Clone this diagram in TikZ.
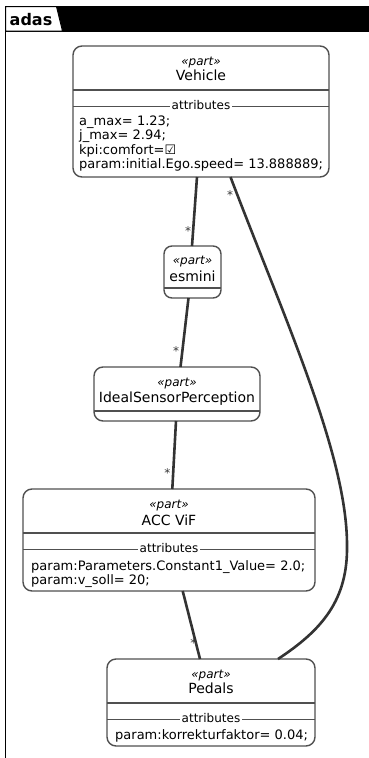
\documentclass[tikz,border=0pt]{standalone}
\usepackage{fontspec}
\setmainfont{DejaVu Sans}
\usetikzlibrary{calc}
\definecolor{edgecol}{HTML}{333333}
\definecolor{boxcol}{HTML}{505050}

\begin{document}
\begin{tikzpicture}[x=1pt,y=-1pt,
  partbox/.style={draw=boxcol, line width=1.4pt, rounded corners=9pt, fill=white, inner sep=0pt, outer sep=0pt},
  stereo/.style={font=\fontsize{12}{14}\selectfont\itshape, inner sep=0pt, anchor=base},
  pname/.style={font=\fontsize{14}{16}\selectfont, inner sep=0pt, anchor=base},
  attr/.style={font=\fontsize{13}{15}\selectfont, inner sep=0pt, anchor=base west},
  seplabel/.style={font=\fontsize{12}{14}\selectfont, inner ysep=0pt, inner xsep=1.5pt, anchor=base, fill=white},
  sepline/.style={draw=boxcol, line width=1.4pt},
  attrline/.style={draw=boxcol, line width=0.9pt},
  link/.style={draw=edgecol, line width=2.6pt},
  mult/.style={font=\fontsize{12}{14}\selectfont, inner sep=0pt, anchor=base, text=edgecol}]

\useasboundingbox (0,0) rectangle (369,758);

% package frame with title tab
\fill[black] (5,6) rectangle (369,31.5);
\draw[black, line width=1pt] (5,6) -- (5,758);
\filldraw[fill=white, draw=black, line width=1pt] (5.5,6.5) -- (56.5,6.5) -- (62.5,31) -- (5.5,31) -- cycle;
\node[font=\bfseries\fontsize{16}{18}\selectfont, anchor=base west, inner sep=0pt] (title) at (9.5,25) {adas};

% Vehicle
\node[partbox, minimum width=256pt, minimum height=131pt] (veh) at (201,111.5) {};
\node[stereo] (vehst) at (201,65) {«part»};
\node[pname] (vehname) at (201,80) {Vehicle};
\draw[sepline] (73,90) -- (329,90);
\draw[attrline] (73,106) -- (329,106);
\node[seplabel] (vehattr) at (201,109.7) {attributes};
\node[attr] (veha1) at (79,125) {a\_max= 1.23;};
\node[attr] (veha2) at (79,139.5) {j\_max= 2.94;};
\node[attr] (veha3) at (79,154) {kpi:comfort=☑};
\node[attr] (veha4) at (79,168.5) {param:initial.Ego.speed= 13.888889;};

% esmini
\node[partbox, rounded corners=8pt, minimum width=57pt, minimum height=52pt] (esm) at (192.5,272) {};
\node[stereo] (esmst) at (192.5,264) {«part»};
\node[pname] (esmname) at (192.5,281) {esmini};
\draw[sepline] (164,288) -- (221,288);

% IdealSensorPerception
\node[partbox, minimum width=166pt, minimum height=54pt] (isp) at (177,394) {};
\node[stereo] (ispst) at (177,386) {«part»};
\node[pname] (ispname) at (177,402) {IdealSensorPerception};
\draw[sepline] (94,411) -- (260,411);

% ACC ViF
\node[partbox, minimum width=292pt, minimum height=102pt] (acc) at (169,540) {};
\node[stereo] (accst) at (169,508) {«part»};
\node[pname] (accname) at (169,525) {ACC ViF};
\draw[sepline] (23,533) -- (315,533);
\draw[attrline] (23,549) -- (315,549);
\node[seplabel] (accattr) at (169,552.7) {attributes};
\node[attr] (acca1) at (31,570.5) {param:Parameters.Constant1\_Value= 2.0;};
\node[attr] (acca2) at (31,584) {param:v\_soll= 20;};

% Pedals
\node[partbox, minimum width=208pt, minimum height=87pt] (ped) at (211,702.5) {};
\node[stereo] (pedst) at (211,678) {«part»};
\node[pname] (pedname) at (211,693) {Pedals};
\draw[sepline] (107,703) -- (315,703);
\draw[attrline] (107,719) -- (315,719);
\node[seplabel] (pedattr) at (211,722.7) {attributes};
\node[attr] (peda1) at (115,739.5) {param:korrekturfaktor= 0.04;};

% composition links
\draw[link] ($(veh.south west)+(124,0)$) -- ($(esm.north west)+(28,0)$);
\draw[link] ($(esm.south west)+(24.5,0)$) -- ($(isp.north west)+(86.5,0)$);
\draw[link] ($(isp.south west)+(82,0)$) -- ($(acc.north west)+(149.3,0)$);
\draw[link] ($(acc.south west)+(159.7,0)$) -- ($(ped.north west)+(93,0)$);
\draw[link] ($(veh.south west)+(157.5,0)$) .. controls (285,320) and (347,455) .. (347,545)
  .. controls (348,600) and (322,630) .. ($(ped.north west)+(171,0)$);

% multiplicities
\node[mult] (m1) at (188,235) {*};
\node[mult] (m2) at (176,355) {*};
\node[mult] (m3) at (167.3,477) {*};
\node[mult] (m4) at (193.3,647) {*};
\node[mult] (m5) at (230,199) {*};
\end{tikzpicture}
\end{document}
